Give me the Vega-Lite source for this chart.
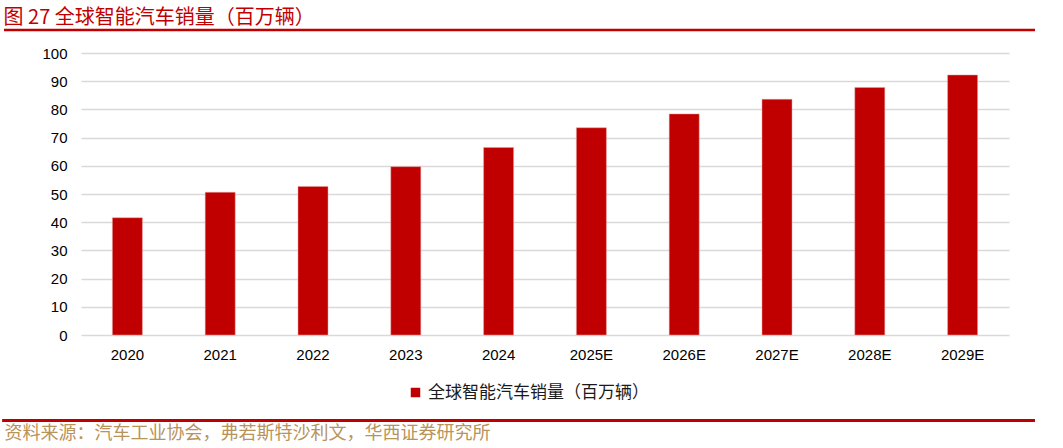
{
  "$schema": "https://vega.github.io/schema/vega-lite/v6.json",
  "width": 928,
  "height": 282,
  "autosize": {"type": "none"},
  "padding": {"left": 81, "top": 53, "right": 54, "bottom": 113},
  "background": "white",
  "config": {
    "view": {"stroke": "transparent"},
    "axis": {"labelFont": "Liberation Sans", "labelFontSize": 15, "labelColor": "#000000"}
  },
  "title": {
    "text": "图 27  全球智能汽车销量（百万辆）",
    "anchor": "start",
    "dx": 3,
    "offset": 1,
    "color": "#C00000",
    "font": "Noto Sans CJK SC",
    "fontSize": 20,
    "fontWeight": "normal"
  },
  "data": {
    "values": [
      {"year": "2020", "sales": 41.6, "series": "全球智能汽车销量（百万辆）"},
      {"year": "2021", "sales": 50.6, "series": "全球智能汽车销量（百万辆）"},
      {"year": "2022", "sales": 52.7, "series": "全球智能汽车销量（百万辆）"},
      {"year": "2023", "sales": 59.7, "series": "全球智能汽车销量（百万辆）"},
      {"year": "2024", "sales": 66.5, "series": "全球智能汽车销量（百万辆）"},
      {"year": "2025E", "sales": 73.5, "series": "全球智能汽车销量（百万辆）"},
      {"year": "2026E", "sales": 78.4, "series": "全球智能汽车销量（百万辆）"},
      {"year": "2027E", "sales": 83.6, "series": "全球智能汽车销量（百万辆）"},
      {"year": "2028E", "sales": 87.8, "series": "全球智能汽车销量（百万辆）"},
      {"year": "2029E", "sales": 92.2, "series": "全球智能汽车销量（百万辆）"}
    ]
  },
  "resolve": {"scale": {"x": "independent", "y": "independent"}},
  "layer": [
    {
      "mark": {"type": "bar", "width": 30, "stroke": "#e8a0a0", "strokeWidth": 0.5},
      "encoding": {
        "x": {
          "field": "year",
          "type": "ordinal",
          "scale": {"paddingInner": 0, "paddingOuter": 0},
          "axis": {
            "labelAngle": 0,
            "labelPadding": 12,
            "domain": false,
            "ticks": false,
            "title": "资料来源：汽车工业协会，弗若斯特沙利文，华西证券研究所",
            "titleAnchor": "start",
            "titleAlign": "left",
            "titleBaseline": "middle",
            "titleX": -77,
            "titleY": 98,
            "titleColor": "#B8935A",
            "titleFont": "Noto Sans CJK SC",
            "titleFontSize": 18,
            "titleFontWeight": "normal"
          }
        },
        "y": {
          "field": "sales",
          "type": "quantitative",
          "scale": {"domain": [0, 100]},
          "axis": {
            "values": [0, 10, 20, 30, 40, 50, 60, 70, 80, 90, 100],
            "title": null,
            "domain": false,
            "ticks": false,
            "labelPadding": 14,
            "gridColor": "#d9d9d9",
            "gridWidth": 1.5
          }
        },
        "color": {
          "field": "series",
          "type": "nominal",
          "scale": {"range": ["#C00000"]},
          "legend": {
            "title": null,
            "orient": "none",
            "legendX": 326,
            "legendY": 331,
            "symbolType": "square",
            "symbolSize": 90,
            "symbolStrokeWidth": 0,
            "labelFont": "Noto Sans CJK SC",
            "labelFontSize": 17,
            "labelColor": "#1a1a1a",
            "labelOffset": 4,
            "labelLimit": 500
          }
        }
      }
    },
    {
      "data": {"values": [{"line": "top"}]},
      "mark": {"type": "rule", "color": "#C00000", "strokeWidth": 2.5},
      "encoding": {
        "x": {"datum": -0.083, "type": "quantitative", "scale": {"domain": [0, 1], "nice": false, "zero": false}, "axis": null},
        "x2": {"datum": 1.028},
        "y": {"datum": 108.2, "type": "quantitative", "scale": {"domain": [0, 100], "nice": false}, "axis": null}
      }
    },
    {
      "data": {"values": [{"line": "bottom"}]},
      "mark": {"type": "rule", "color": "#C00000", "strokeWidth": 3},
      "encoding": {
        "x": {"datum": -0.085, "type": "quantitative", "scale": {"domain": [0, 1], "nice": false, "zero": false}, "axis": null},
        "x2": {"datum": 1.028},
        "y": {"datum": -30.3, "type": "quantitative", "scale": {"domain": [0, 100], "nice": false}, "axis": null}
      }
    }
  ]
}
